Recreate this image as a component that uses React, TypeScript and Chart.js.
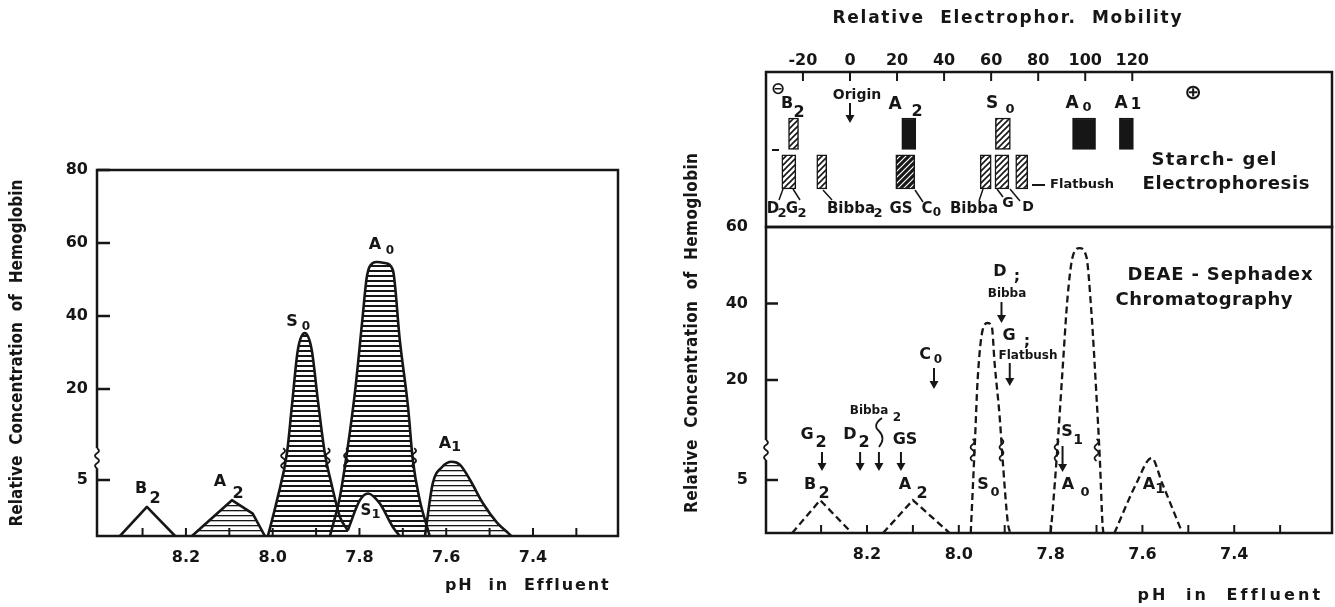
import React, { useEffect, useRef } from "react";
import { Chart, registerables, LinearScale } from "chart.js";

Chart.register(...registerables);

/* ===================== DATA ===================== */
// Left panel — solid elution curves: pH in effluent vs relative concentration
const leftB2pH = [8.352, 8.29, 8.225];
const leftB2Conc = [0, 2.6, 0];
const leftA2pH = [8.186, 8.094, 8.046, 8.018];
const leftA2Conc = [0, 3.2, 2.0, 0];
const leftS0pH = [8.011, 7.99, 7.967, 7.956, 7.942, 7.926, 7.91, 7.896, 7.88, 7.863, 7.845, 7.827];
const leftS0Conc = [0, 3.2, 9.5, 17, 30.7, 35.3, 30.7, 18.2, 9.5, 4.4, 1.7, 0.5];
const leftS1pH = [7.827, 7.799, 7.78, 7.753, 7.723, 7.707];
const leftS1Conc = [0.5, 3.2, 3.8, 2.9, 0.8, 0];
const leftA0pH = [7.868, 7.845, 7.827, 7.81, 7.794, 7.783, 7.769, 7.76, 7.741, 7.723, 7.707, 7.688, 7.677, 7.661, 7.644, 7.638];
const leftA0Conc = [0, 3.5, 10.4, 19.7, 38.1, 50.7, 54.5, 54.8, 54.5, 52.6, 33.4, 17, 8.3, 3.2, 0.8, 0];
const leftA1pH = [7.649, 7.631, 7.61, 7.587, 7.568, 7.545, 7.515, 7.483, 7.458, 7.45];
const leftA1Conc = [0, 4.7, 7.1, 8.0, 7.5, 5.0, 2.9, 1.2, 0.3, 0];

// Right panel — DEAE-Sephadex chromatography (dashed curves)
const rightB2pH = [8.363, 8.302, 8.233];
const rightB2Conc = [0, 3.1, 0];
const rightA2pH = [8.165, 8.1, 8.02];
const rightA2Conc = [0, 3.1, 0];
const rightS0pH = [7.974, 7.965, 7.959, 7.948, 7.937, 7.928, 7.922, 7.911, 7.904, 7.893, 7.888];
const rightS0Conc = [0, 10.5, 20, 33.1, 34.9, 33.9, 24.4, 14.5, 7.6, 0.9, 0];
const rightA0pH = [7.8, 7.796, 7.785, 7.774, 7.763, 7.752, 7.737, 7.722, 7.711, 7.7, 7.693, 7.687, 7.685];
const rightA0Conc = [0, 1.9, 10, 22.6, 41.7, 52.2, 54.5, 52.2, 37.5, 17.5, 8.5, 0.9, 0];
const rightA1pH = [7.661, 7.613, 7.58, 7.557, 7.513];
const rightA1Conc = [0, 4.7, 8.3, 4.7, 0];

// Starch-gel electrophoresis bands (relative electrophoretic mobility)
const topBandNames = ["B2", "A2", "S0", "A0", "A1"];
const topBandMobility = [-24, 25, 65, 99.5, 117.5];
const bottomBandNames = ["D2/G2", "Bibba2", "GS/C0", "Bibba", "G", "D"];
const bottomBandMobility = [-26, -12, 23.5, 57.7, 64.6, 73];
const topLane = [50, 70.3];
const bottomLane = [24.5, 46.5];

// Marker arrows in chromatography (pH positions)
const arrowNames = ["G2", "D2", "Bibba2", "GS", "C0", "D;Bibba", "G;Flatbush", "S1"];
const arrowPH = [8.298, 8.215, 8.174, 8.126, 8.054, 7.907, 7.889, 7.774];

// Axis ticks
const pHTicks = [8.3, 8.2, 8.1, 8.0, 7.9, 7.8, 7.7, 7.6, 7.5, 7.4, 7.3];
const pHLabelled = [8.2, 8.0, 7.8, 7.6, 7.4];
const leftYTicks = [5, 20, 40, 60, 80];
const rightYTicks = [5, 20, 40, 60];
const mobilityTicks = [-20, 0, 20, 40, 60, 80, 100, 120];

// Broken (piecewise) concentration axes
const leftYKnots = [0, 5, 20, 80];
const leftYFracs = [0, 0.153, 0.4016, 1];
const rightYKnots = [0, 5, 20, 60];
const rightYFracs = [0, 0.1732, 0.5, 1];
const leftBreakConc = 8.6;
const rightBreakConc = 9.5;
const leftBreakPH = [7.976, 7.873, 7.831, 7.674];
const rightBreakPH = [7.97, 7.907, 7.787, 7.7];

/* ===================== STYLE ===================== */
const W = 1335;
const H = 607;
const INK = "#161616";
const LETTER = '"DejaVu Sans", "Open Sans", sans-serif';
const NARROW = '"Liberation Sans Narrow", "DejaVu Sans Condensed", "Liberation Sans", sans-serif';
const TOP_W = [10, 14, 15, 23, 14];
const TOP_STYLE = ["hatch", "solid", "hatch", "solid", "solid"];
const BOTTOM_W = [14, 10, 19, 11, 14, 12];
const BOTTOM_STYLE = ["hatch", "hatch", "dark", "hatch", "hatch", "hatch"];

function interp(x: number, xs: number[], ys: number[]) {
  const n = xs.length;
  if (x <= xs[0]) return ys[0] + ((x - xs[0]) * (ys[1] - ys[0])) / (xs[1] - xs[0]);
  for (let i = 1; i < n; i++) {
    if (x <= xs[i]) {
      const t = (x - xs[i - 1]) / (xs[i] - xs[i - 1]);
      return ys[i - 1] + t * (ys[i] - ys[i - 1]);
    }
  }
  return ys[n - 1] + ((x - xs[n - 1]) * (ys[n - 1] - ys[n - 2])) / (xs[n - 1] - xs[n - 2]);
}

function makeBrokenScale(scaleId: string, knots: number[], fracs: number[]) {
  class BrokenScale extends LinearScale {
    static id = scaleId;
    getPixelForValue(value: number) {
      return (this as any).getPixelForDecimal(interp(value, knots, fracs));
    }
    getValueForPixel(pixel: number) {
      return interp((this as any).getDecimalForPixel(pixel), fracs, knots);
    }
  }
  return BrokenScale;
}
const BrokenLeft = makeBrokenScale("brokenLeft", leftYKnots, leftYFracs);
const BrokenRight = makeBrokenScale("brokenRight", rightYKnots, rightYFracs);
Chart.register(BrokenLeft as any, BrokenRight as any);

/* ===================== DRAW HELPERS ===================== */
function stripePattern(period: number, lw: number) {
  const c = document.createElement("canvas");
  c.width = 8;
  c.height = period;
  const g = c.getContext("2d")!;
  g.fillStyle = "#fff";
  g.fillRect(0, 0, 8, period);
  g.fillStyle = INK;
  g.fillRect(0, 0, 8, lw);
  return g.createPattern(c, "repeat")!;
}
function diagPattern(bg: string, fg: string, lw: number) {
  const s = 6;
  const c = document.createElement("canvas");
  c.width = s;
  c.height = s;
  const g = c.getContext("2d")!;
  g.fillStyle = bg;
  g.fillRect(0, 0, s, s);
  g.strokeStyle = fg;
  g.lineWidth = lw;
  g.beginPath();
  g.moveTo(0, s);
  g.lineTo(s, 0);
  g.moveTo(-1, 1);
  g.lineTo(1, -1);
  g.moveTo(s - 1, s + 1);
  g.lineTo(s + 1, s - 1);
  g.stroke();
  return g.createPattern(c, "repeat")!;
}

function lab(ctx: CanvasRenderingContext2D, s: string, x: number, y: number, size: number, family = LETTER) {
  ctx.font = `bold ${size}px ${family}`;
  (ctx as any).letterSpacing = "0px";
  ctx.textAlign = "center";
  ctx.textBaseline = "middle";
  ctx.fillStyle = INK;
  ctx.fillText(s, x, y);
}

function fitText(ctx: CanvasRenderingContext2D, s: string, cx: number, cy: number, width: number, font: string) {
  ctx.font = font;
  ctx.fillStyle = INK;
  ctx.textBaseline = "middle";
  ctx.textAlign = "left";
  const supports = "letterSpacing" in ctx;
  if (supports) (ctx as any).letterSpacing = "0px";
  const w0 = ctx.measureText(s).width;
  if (supports) {
    const ls = (width - w0) / Math.max(1, s.length - 1);
    (ctx as any).letterSpacing = `${ls}px`;
    ctx.fillText(s, cx - width / 2, cy);
    (ctx as any).letterSpacing = "0px";
  } else {
    ctx.save();
    ctx.translate(cx - width / 2, cy);
    ctx.scale(width / w0, 1);
    ctx.fillText(s, 0, 0);
    ctx.restore();
  }
}

function vText(ctx: CanvasRenderingContext2D, s: string, cx: number, cy: number, len: number, font: string) {
  ctx.save();
  ctx.translate(cx, cy);
  ctx.rotate(-Math.PI / 2);
  fitText(ctx, s, 0, 0, len, font);
  ctx.restore();
}

function seg(ctx: CanvasRenderingContext2D, x1: number, y1: number, x2: number, y2: number, lw = 2) {
  ctx.lineWidth = lw;
  ctx.beginPath();
  ctx.moveTo(x1, y1);
  ctx.lineTo(x2, y2);
  ctx.stroke();
}

function squiggle(ctx: CanvasRenderingContext2D, x: number, y: number, h = 20, amp = 4) {
  ctx.lineWidth = 1.8;
  ctx.beginPath();
  const n = 4;
  const step = h / n;
  ctx.moveTo(x, y - h / 2);
  for (let i = 0; i < n; i++) {
    const y0 = y - h / 2 + i * step;
    ctx.quadraticCurveTo(x + (i % 2 ? -amp : amp), y0 + step / 2, x, y0 + step);
  }
  ctx.stroke();
}

function arrowDown(ctx: CanvasRenderingContext2D, x: number, y1: number, y2: number) {
  seg(ctx, x, y1, x, y2 - 6, 2);
  ctx.beginPath();
  ctx.moveTo(x - 4.5, y2 - 8);
  ctx.lineTo(x + 4.5, y2 - 8);
  ctx.lineTo(x, y2);
  ctx.closePath();
  ctx.fill();
}

function pts(xs: number[], ys: number[]) {
  return xs.map((x, i) => ({ x, y: ys[i] }));
}

function pHLabel(v: any) {
  const n = Number(v);
  return pHLabelled.some((l) => Math.abs(l - n) < 1e-6) ? n.toFixed(1) : "";
}

const tickFont = { family: LETTER, size: 16, weight: "bold" as const };

/* ===================== COMPONENT ===================== */
export default function App() {
  const leftRef = useRef<HTMLCanvasElement>(null);
  const gelRef = useRef<HTMLCanvasElement>(null);
  const chromRef = useRef<HTMLCanvasElement>(null);

  useEffect(() => {
    const charts: Chart[] = [];
    const ladder = stripePattern(5, 2);
    const light = stripePattern(5, 1.3);
    const hatch = diagPattern("#fff", INK, 1.6);
    const dark = diagPattern(INK, "#fff", 1.2);

    /* ---------- Left chart ---------- */
    const leftDecor = {
      id: "leftDecor",
      afterDraw(chart: any) {
        const { ctx, chartArea: a, scales } = chart;
        const xs = scales.x;
        const ys = scales.y;
        ctx.save();
        ctx.strokeStyle = INK;
        ctx.fillStyle = INK;
        ctx.lineWidth = 2.5;
        ctx.strokeRect(a.left, a.top, a.right - a.left, a.bottom - a.top);
        for (const v of leftYTicks) {
          const y = ys.getPixelForValue(v);
          seg(ctx, a.left, y, a.left + 13, y, 2.5);
        }
        for (const v of pHTicks) {
          const x = xs.getPixelForValue(v);
          seg(ctx, x, a.bottom, x, a.bottom - 8, 2);
        }
        const yb = ys.getPixelForValue(leftBreakConc);
        ctx.fillStyle = "#fff";
        ctx.fillRect(a.left - 3, yb - 10, 6, 20);
        ctx.fillStyle = INK;
        squiggle(ctx, a.left, yb);
        for (const p of leftBreakPH) squiggle(ctx, xs.getPixelForValue(p), yb);

        lab(ctx, "B", 141, 489, 16); lab(ctx, "2", 155, 499, 16);
        lab(ctx, "A", 220, 482, 16); lab(ctx, "2", 238, 494, 16);
        lab(ctx, "S", 292, 322, 16); lab(ctx, "0", 306, 327, 12);
        lab(ctx, "A", 375, 245, 16); lab(ctx, "0", 390, 251, 12);
        lab(ctx, "S", 366, 511, 15); lab(ctx, "1", 376, 515, 13);
        lab(ctx, "A", 445, 444, 16); lab(ctx, "1", 456, 447, 14);

        vText(ctx, "Relative  Concentration  of  Hemoglobin", 18, 353, 347, `bold 17px ${NARROW}`);
        fitText(ctx, "pH  in  Effluent", 526, 586, 162, `bold 16px ${LETTER}`);
        ctx.restore();
      },
    };

    const line = (xs: number[], ys: number[], extra: any) => ({
      data: pts(xs, ys),
      borderColor: INK,
      pointRadius: 0,
      fill: false,
      ...extra,
    });

    if (leftRef.current) {
      charts.push(
        new Chart(leftRef.current, {
          type: "line",
          data: {
            datasets: [
              line(leftA0pH, leftA0Conc, { label: "A0", fill: "start", backgroundColor: ladder, order: 6, cubicInterpolationMode: "monotone" }),
              line(leftS0pH, leftS0Conc, { label: "S0", fill: "start", backgroundColor: ladder, order: 5, cubicInterpolationMode: "monotone" }),
              line(leftS1pH, leftS1Conc, { label: "S1", fill: "start", backgroundColor: "#fff", order: 4, cubicInterpolationMode: "monotone" }),
              line(leftA1pH, leftA1Conc, { label: "A1", fill: "start", backgroundColor: light, order: 3, cubicInterpolationMode: "monotone" }),
              line(leftA2pH, leftA2Conc, { label: "A2", fill: "start", backgroundColor: light, order: 2 }),
              line(leftB2pH, leftB2Conc, { label: "B2", order: 1 }),
            ] as any,
          },
          options: {
            responsive: false,
            animation: false,
            devicePixelRatio: 1,
            layout: { padding: { left: 0, top: 170, right: W - 618, bottom: 0 }, autoPadding: false },
            plugins: {
              legend: { display: false },
              tooltip: { enabled: false },
              filler: { drawTime: "beforeDatasetsDraw" },
            } as any,
            elements: { line: { borderWidth: 2.6, borderJoinStyle: "round" } as any },
            scales: {
              x: {
                type: "linear",
                reverse: true,
                min: 7.204,
                max: 8.405,
                offset: false,
                grid: { display: false, drawTicks: false, tickLength: 0 },
                border: { display: false },
                afterBuildTicks: (s: any) => { s.ticks = pHTicks.map((v) => ({ value: v })); },
                afterFit: (s: any) => { s.height = H - 536; },
                ticks: { autoSkip: false, maxRotation: 0, padding: 12, font: tickFont, color: INK, callback: pHLabel },
              },
              y: {
                type: "brokenLeft" as any,
                min: 0,
                max: 80,
                grid: { display: false, drawTicks: false, tickLength: 0 },
                border: { display: false },
                afterBuildTicks: (s: any) => { s.ticks = leftYTicks.map((v) => ({ value: v })); },
                afterFit: (s: any) => { s.width = 97; },
                ticks: { autoSkip: false, padding: 9, font: tickFont, color: INK, callback: (v: any) => String(v) },
              },
            } as any,
          },
          plugins: [leftDecor],
        })
      );
    }

    /* ---------- Gel (electrophoresis) panel ---------- */
    const gelDecor = {
      id: "gelDecor",
      afterDraw(chart: any) {
        const { ctx, chartArea: a, scales } = chart;
        const xs = scales.x;
        ctx.save();
        ctx.strokeStyle = INK;
        ctx.fillStyle = INK;
        ctx.lineWidth = 2.5;
        ctx.strokeRect(a.left, a.top, a.right - a.left, a.bottom - a.top);
        for (const v of mobilityTicks) {
          const x = xs.getPixelForValue(v);
          seg(ctx, x, a.top, x, a.top + 9, 2);
        }
        seg(ctx, a.left + 6, 150, a.left + 13, 150, 2);

        lab(ctx, "\u2296", 778, 90, 17);
        lab(ctx, "\u2295", 1193, 94, 21);
        lab(ctx, "B", 787, 104, 16); lab(ctx, "2", 799, 113, 16);
        lab(ctx, "Origin", 857, 95, 14);
        arrowDown(ctx, xs.getPixelForValue(0), 103, 123);
        lab(ctx, "A", 895, 105, 17); lab(ctx, "2", 917, 112, 16);
        lab(ctx, "S", 992, 104, 17); lab(ctx, "0", 1010, 110, 13);
        lab(ctx, "A", 1072, 104, 17); lab(ctx, "0", 1087, 108, 13);
        lab(ctx, "A", 1121, 104, 17); lab(ctx, "1", 1136, 105, 15);

        lab(ctx, "D", 773, 209, 15); lab(ctx, "2", 782, 214, 13);
        lab(ctx, "G", 792, 209, 15); lab(ctx, "2", 802, 214, 13);
        lab(ctx, "Bibba", 851, 209, 15); lab(ctx, "2", 878, 214, 13);
        lab(ctx, "GS", 901, 209, 15);
        lab(ctx, "C", 927, 209, 15); lab(ctx, "0", 937, 213, 12);
        lab(ctx, "Bibba", 974, 209, 15);
        lab(ctx, "G", 1008, 203, 14);
        lab(ctx, "D", 1028, 207, 14);
        seg(ctx, 1032, 185, 1045, 185, 2);
        lab(ctx, "Flatbush", 1082, 185, 13);

        // leader lines from bands to labels
        seg(ctx, 783, 189, 779, 200, 1.5);
        seg(ctx, 793, 189, 800, 200, 1.5);
        seg(ctx, 823, 190, 832, 200, 1.5);
        seg(ctx, 915, 190, 923, 202, 1.5);
        seg(ctx, 983, 189, 979, 201, 1.5);
        seg(ctx, 997, 189, 1003, 197, 1.5);
        seg(ctx, 1010, 189, 1020, 201, 1.5);

        fitText(ctx, "Starch- gel", 1214, 160, 125, `bold 18px ${LETTER}`);
        fitText(ctx, "Electrophoresis", 1226, 184, 167, `bold 18px ${LETTER}`);
        fitText(ctx, "Relative  Electrophor.  Mobility", 1007, 19, 349, `bold 17px ${LETTER}`);
        ctx.restore();
      },
    };

    const bandFill = (st: string) => (st === "solid" ? INK : st === "dark" ? dark : hatch);
    const bandSets: any[] = [
      ...topBandMobility.map((m, i) => ({
        label: topBandNames[i],
        data: [{ x: m, y: [...topLane] }],
        barThickness: TOP_W[i],
        backgroundColor: bandFill(TOP_STYLE[i]),
        borderColor: INK,
        borderWidth: 1.5,
        borderSkipped: false,
        grouped: false,
      })),
      ...bottomBandMobility.map((m, i) => ({
        label: bottomBandNames[i],
        data: [{ x: m, y: [...bottomLane] }],
        barThickness: BOTTOM_W[i],
        backgroundColor: bandFill(BOTTOM_STYLE[i]),
        borderColor: INK,
        borderWidth: 1.5,
        borderSkipped: false,
        grouped: false,
      })),
    ];

    if (gelRef.current) {
      charts.push(
        new Chart(gelRef.current, {
          type: "bar",
          data: { datasets: bandSets },
          options: {
            responsive: false,
            animation: false,
            devicePixelRatio: 1,
            layout: { padding: { left: 766, top: 0, right: 3, bottom: H - 227 }, autoPadding: false },
            plugins: { legend: { display: false }, tooltip: { enabled: false } },
            scales: {
              x: {
                type: "linear",
                position: "top",
                min: -35.7,
                max: 204.9,
                offset: false,
                grid: { display: false, drawTicks: false, tickLength: 0, offset: false },
                border: { display: false },
                afterBuildTicks: (s: any) => { s.ticks = mobilityTicks.map((v) => ({ value: v })); },
                afterFit: (s: any) => { s.height = 72; },
                ticks: { autoSkip: false, maxRotation: 0, padding: 2, font: tickFont, color: INK, callback: (v: any) => String(v) },
              },
              y: { display: false, min: 0, max: 100 },
            } as any,
          },
          plugins: [gelDecor],
        })
      );
    }

    /* ---------- Chromatography panel ---------- */
    const arrowSpan: Record<string, [number, number]> = {
      G2: [452, 471], D2: [452, 471], Bibba2: [452, 471], GS: [452, 471],
      C0: [368, 389], "D;Bibba": [302, 323], "G;Flatbush": [363, 386], S1: [446, 472],
    };
    const chromDecor = {
      id: "chromDecor",
      afterDraw(chart: any) {
        const { ctx, chartArea: a, scales } = chart;
        const xs = scales.x;
        const ys = scales.y;
        ctx.save();
        ctx.strokeStyle = INK;
        ctx.fillStyle = INK;
        ctx.lineWidth = 2.5;
        ctx.strokeRect(a.left, a.top, a.right - a.left, a.bottom - a.top);
        for (const v of rightYTicks) {
          const y = ys.getPixelForValue(v);
          if (v !== 60) seg(ctx, a.left, y, a.left + 12, y, 2.5);
        }
        for (const v of pHTicks) {
          const x = xs.getPixelForValue(v);
          seg(ctx, x, a.bottom, x, a.bottom - 8, 2);
        }
        const yb = ys.getPixelForValue(rightBreakConc);
        ctx.fillStyle = "#fff";
        ctx.fillRect(a.left - 3, yb - 10, 6, 20);
        ctx.fillStyle = INK;
        squiggle(ctx, a.left, yb);
        for (const p of rightBreakPH) squiggle(ctx, xs.getPixelForValue(p), yb, 22);

        arrowNames.forEach((n, i) => {
          const [y1, y2] = arrowSpan[n];
          arrowDown(ctx, xs.getPixelForValue(arrowPH[i]), y1, y2);
        });
        // wavy connector under Bibba2
        ctx.lineWidth = 1.8;
        ctx.beginPath();
        ctx.moveTo(882, 418);
        ctx.quadraticCurveTo(872, 425, 879, 431);
        ctx.quadraticCurveTo(886, 438, 879, 447);
        ctx.stroke();

        lab(ctx, "G", 807, 435, 16); lab(ctx, "2", 821, 443, 16);
        lab(ctx, "D", 850, 435, 16); lab(ctx, "2", 864, 443, 16);
        lab(ctx, "Bibba", 869, 411, 12); lab(ctx, "2", 897, 418, 12);
        lab(ctx, "GS", 905, 440, 16);
        lab(ctx, "B", 810, 485, 16); lab(ctx, "2", 824, 494, 16);
        lab(ctx, "A", 905, 485, 16); lab(ctx, "2", 922, 494, 16);
        lab(ctx, "C", 925, 355, 16); lab(ctx, "0", 938, 360, 12);
        lab(ctx, "D", 1000, 272, 16); lab(ctx, ";", 1017, 277, 16);
        lab(ctx, "Bibba", 1007, 294, 12);
        lab(ctx, "G", 1009, 336, 16); lab(ctx, ";", 1027, 342, 16);
        lab(ctx, "Flatbush", 1028, 356, 12);
        lab(ctx, "S", 983, 485, 16); lab(ctx, "0", 995, 493, 13);
        lab(ctx, "S", 1067, 432, 16); lab(ctx, "1", 1078, 440, 14);
        lab(ctx, "A", 1068, 485, 16); lab(ctx, "0", 1085, 493, 13);
        lab(ctx, "A", 1149, 485, 16); lab(ctx, "1", 1160, 489, 14);

        fitText(ctx, "DEAE - Sephadex", 1220, 275, 185, `bold 18px ${LETTER}`);
        fitText(ctx, "Chromatography", 1204, 300, 177, `bold 18px ${LETTER}`);
        vText(ctx, "Relative  Concentration  of  Hemoglobin", 693, 333, 360, `bold 17px ${NARROW}`);
        fitText(ctx, "pH  in  Effluent", 1228, 596, 181, `bold 16px ${LETTER}`);
        ctx.restore();
      },
    };

    const dashed = { borderDash: [7, 4], borderWidth: 2.3 };
    if (chromRef.current) {
      charts.push(
        new Chart(chromRef.current, {
          type: "line",
          data: {
            datasets: [
              line(rightB2pH, rightB2Conc, { label: "B2", ...dashed }),
              line(rightA2pH, rightA2Conc, { label: "A2", ...dashed }),
              line(rightS0pH, rightS0Conc, { label: "S0", ...dashed, cubicInterpolationMode: "monotone" }),
              line(rightA0pH, rightA0Conc, { label: "A0", ...dashed, cubicInterpolationMode: "monotone" }),
              line(rightA1pH, rightA1Conc, { label: "A1", ...dashed, cubicInterpolationMode: "monotone" }),
            ] as any,
          },
          options: {
            responsive: false,
            animation: false,
            devicePixelRatio: 1,
            layout: { padding: { left: 0, top: 227, right: 3, bottom: 0 }, autoPadding: false },
            plugins: { legend: { display: false }, tooltip: { enabled: false } },
            scales: {
              x: {
                type: "linear",
                reverse: true,
                min: 7.187,
                max: 8.42,
                offset: false,
                grid: { display: false, drawTicks: false, tickLength: 0 },
                border: { display: false },
                afterBuildTicks: (s: any) => { s.ticks = pHTicks.map((v) => ({ value: v })); },
                afterFit: (s: any) => { s.height = H - 533; },
                ticks: { autoSkip: false, maxRotation: 0, padding: 12, font: tickFont, color: INK, callback: pHLabel },
              },
              y: {
                type: "brokenRight" as any,
                min: 0,
                max: 60,
                grid: { display: false, drawTicks: false, tickLength: 0 },
                border: { display: false },
                afterBuildTicks: (s: any) => { s.ticks = rightYTicks.map((v) => ({ value: v })); },
                afterFit: (s: any) => { s.width = 766; },
                ticks: { autoSkip: false, padding: 18, font: tickFont, color: INK, callback: (v: any) => String(v) },
              },
            } as any,
          },
          plugins: [chromDecor],
        })
      );
    }

    return () => charts.forEach((c) => c.destroy());
  }, []);

  const cs: React.CSSProperties = { position: "absolute", left: 0, top: 0, width: W, height: H };
  return (
    <div style={{ position: "fixed", left: 0, top: 0, width: W, height: H, background: "#fff", overflow: "hidden" }}>
      <canvas ref={leftRef} width={W} height={H} style={cs} />
      <canvas ref={gelRef} width={W} height={H} style={cs} />
      <canvas ref={chromRef} width={W} height={H} style={cs} />
    </div>
  );
}
